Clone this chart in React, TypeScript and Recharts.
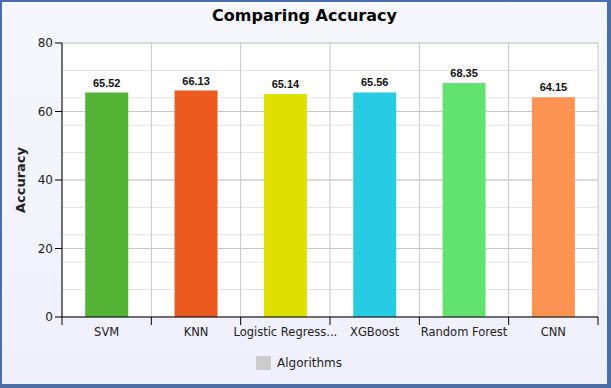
import {
  BarChart,
  Bar,
  XAxis,
  YAxis,
  CartesianGrid,
  Legend,
  LabelList,
  Cell,
} from "recharts";

const algorithms = ["SVM", "KNN", "Logistic Regression", "XGBoost", "Random Forest", "CNN"];
const accuracy = [65.52, 66.13, 65.14, 65.56, 68.35, 64.15];
const barColors = ["#53b335", "#eb5a1f", "#dee000", "#27cbe2", "#62e36f", "#fd9352"];
const yTicks = [0, 20, 40, 60, 80];
const minorGrid = [0, 4, 8, 12, 16, 20, 24, 28, 32, 36, 40, 44, 48, 52, 56, 60, 64, 68, 72, 76, 80];

const data = algorithms.map((name, i) => ({ name, value: accuracy[i] }));

const W = 611;
const H = 388;
const MARGIN = { top: 43, right: 13, left: 0, bottom: 0 };
const Y_WIDTH = 62;
const PLOT_W = W - MARGIN.left - MARGIN.right - Y_WIDTH;
const BAND = PLOT_W / algorithms.length;
const FONT = "'DejaVu Sans', Verdana, sans-serif";

// truncate long names the way the original renderer does
function shortName(s: string) {
  return s.length > 16 ? s.slice(0, 16) + "..." : s;
}

// tick with the mark on the band boundary, label in the middle
function XTick(props: any) {
  const { x, y, payload, index } = props;
  const left = x - BAND / 2;
  const isLast = index === algorithms.length - 1;
  return (
    <g>
      <line x1={left} y1={y - 8} x2={left} y2={y} stroke="#000" strokeWidth={1} />
      {isLast && <line x1={left + BAND} y1={y - 8} x2={left + BAND} y2={y} stroke="#000" strokeWidth={1} />}
      <text x={x} y={y + 11} textAnchor="middle" fontSize={11.5} fontFamily={FONT} fill="#222">
        {shortName(payload.value)}
      </text>
    </g>
  );
}

function LegendBox() {
  return (
    <div
      style={{
        display: "flex",
        justifyContent: "center",
        alignItems: "center",
        paddingTop: 5,
        fontFamily: FONT,
        fontSize: 12,
        color: "#222",
      }}
    >
      <span style={{ width: 15, height: 14, background: "#cccccc", display: "inline-block", marginRight: 6 }} />
      Algorithms
    </div>
  );
}

export default function App() {
  return (
    <div
      style={{
        position: "absolute",
        top: 0,
        left: 0,
        width: W,
        height: H,
        boxSizing: "border-box",
        borderStyle: "solid",
        borderColor: "#4a6ea8",
        borderWidth: "2px 4px 4px 2px",
        background: "linear-gradient(180deg, #f6f7fc 0%, #eff0fb 100%)",
        overflow: "hidden",
      }}
    >
      <div
        style={{
          position: "absolute",
          top: 4,
          left: 0,
          width: W - 6,
          textAlign: "center",
          fontFamily: FONT,
          fontWeight: "bold",
          fontSize: 16,
          color: "#000",
        }}
      >
        Comparing Accuracy
      </div>
      <div style={{ position: "absolute", top: -2, left: -2 }}>
        <BarChart width={W} height={H} data={data} margin={MARGIN} barCategoryGap="26%">
          <CartesianGrid
            horizontalValues={minorGrid}
            vertical={false}
            stroke="#e2e2e2"
            strokeWidth={1}
            fill="#ffffff"
            fillOpacity={1}
          />
          <CartesianGrid
            horizontalValues={yTicks}
            verticalCoordinatesGenerator={({ offset }: any) =>
              algorithms.map((_, i) => offset.left + i * BAND).concat([offset.left + PLOT_W])
            }
            stroke="#c6c6c6"
            strokeWidth={1}
          />
          <XAxis
            dataKey="name"
            interval={0}
            height={34}
            tickLine={false}
            axisLine={{ stroke: "#000", strokeWidth: 1 }}
            tick={<XTick />}
          />
          <YAxis
            domain={[0, 80]}
            ticks={yTicks}
            width={Y_WIDTH}
            axisLine={{ stroke: "#000", strokeWidth: 1 }}
            tickLine={{ stroke: "#000" }}
            tickSize={7}
            tick={{ fontSize: 12, fontFamily: FONT, fill: "#222" }}
            label={{
              value: "Accuracy",
              angle: -90,
              position: "insideLeft",
              offset: 20,
              style: { fontSize: 13, fontWeight: "bold", fontFamily: FONT, fill: "#222", textAnchor: "middle" },
            }}
          />
          <Legend verticalAlign="bottom" height={37} content={<LegendBox />} />
          <Bar dataKey="value" name="Algorithms" isAnimationActive={false}>
            {data.map((d, i) => (
              <Cell key={d.name} fill={barColors[i]} />
            ))}
            <LabelList
              dataKey="value"
              position="top"
              offset={6}
              style={{ fontSize: 11, fontWeight: "bold", fontFamily: "'Liberation Sans', Arial, sans-serif", fill: "#111" }}
            />
          </Bar>
        </BarChart>
      </div>
    </div>
  );
}
